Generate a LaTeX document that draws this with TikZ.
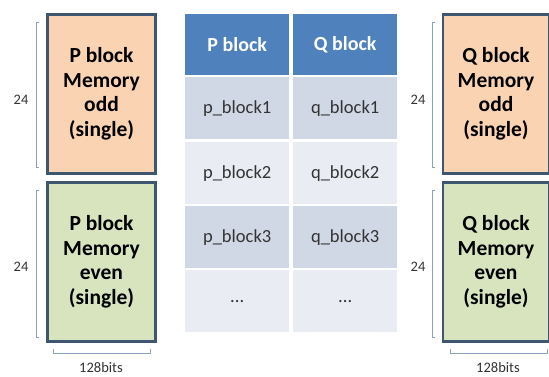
\documentclass[tikz,border=0pt]{standalone}
\usepackage{fontspec}
\setmainfont{Carlito}
\definecolor{memedge}{HTML}{3F5670}
\definecolor{oddfill}{HTML}{FAD3B2}
\definecolor{evenfill}{HTML}{D8E4BE}
\definecolor{headfill}{HTML}{4F81BD}
\definecolor{rowA}{HTML}{D0D8E6}
\definecolor{rowB}{HTML}{E9EDF3}
\definecolor{dimline}{HTML}{8AA3BC}
\definecolor{txt}{HTML}{333333}
\tikzset{
  membox/.style={draw=memedge, line width=2.6pt, minimum width=108pt, minimum height=159pt,
    align=center, text=black, font=\bfseries\fontsize{21.5}{24.5}\selectfont},
  cell/.style={minimum width=104pt, minimum height=62pt, inner sep=0pt, text=txt,
    font=\fontsize{18.5}{21}\selectfont},
  headcell/.style={cell, fill=headfill, text=white, minimum height=61pt,
    font=\bfseries\fontsize{20}{23}\selectfont},
  dim/.style={draw=dimline, line width=0.8pt},
  dimlabel/.style={text=txt, font=\fontsize{14.5}{17}\selectfont, inner sep=1pt}
}
\begin{document}
\begin{tikzpicture}[x=1pt, y=-1pt]
\useasboundingbox (0,0) rectangle (549,376);
\fill[white] (0,0) rectangle (549,376);

% memory blocks
\node[membox, fill=oddfill]  (podd)  at (101.5, 94)  {P block\\Memory\\odd\\(single)};
\node[membox, fill=evenfill] (peven) at (101.5, 262) {P block\\Memory\\even\\(single)};
\node[membox, fill=oddfill, minimum width=106pt]  (qodd)  at (496, 94)  {Q block\\Memory\\odd\\(single)};
\node[membox, fill=evenfill, minimum width=106pt] (qeven) at (496, 262) {Q block\\Memory\\even\\(single)};

% table
\node[headcell, anchor=north west] (h1) at (185,14) {P block};
\node[headcell, anchor=north west] (h2) at (293,14) {Q block};
\node[cell, fill=rowA, anchor=north west] (a1) at (185,77)  {p\_block1};
\node[cell, fill=rowA, anchor=north west] (a2) at (293,77)  {q\_block1};
\node[cell, fill=rowB, anchor=north west] (b1) at (185,142) {p\_block2};
\node[cell, fill=rowB, anchor=north west] (b2) at (293,142) {q\_block2};
\node[cell, fill=rowA, anchor=north west] (c1) at (185,206) {p\_block3};
\node[cell, fill=rowA, anchor=north west] (c2) at (293,206) {q\_block3};
\node[cell, fill=rowB, anchor=north west] (d1) at (185,270) {...};
\node[cell, fill=rowB, anchor=north west] (d2) at (293,270) {...};

% height markers
\draw[dim] (39,22) -- (36,22) -- (36,167) -- (39,167);
\draw[dim] (39,190) -- (36,190) -- (36,337) -- (39,337);
\draw[dim] (435,22) -- (432,22) -- (432,167) -- (435,167);
\draw[dim] (435,190) -- (432,190) -- (432,337) -- (435,337);
\node[dimlabel] (hl1) at (21,100) {24};
\node[dimlabel] (hl2) at (21,267) {24};
\node[dimlabel] (hr1) at (418,100) {24};
\node[dimlabel] (hr2) at (418,267) {24};

% width markers
\draw[dim] (53,349) -- (53,353) -- (150,353) -- (150,349);
\draw[dim] (450,349) -- (450,353) -- (547,353) -- (547,349);
\node[dimlabel] (wl) at (101,368) {128bits};
\node[dimlabel] (wr) at (498,368) {128bits};
\end{tikzpicture}
\end{document}
